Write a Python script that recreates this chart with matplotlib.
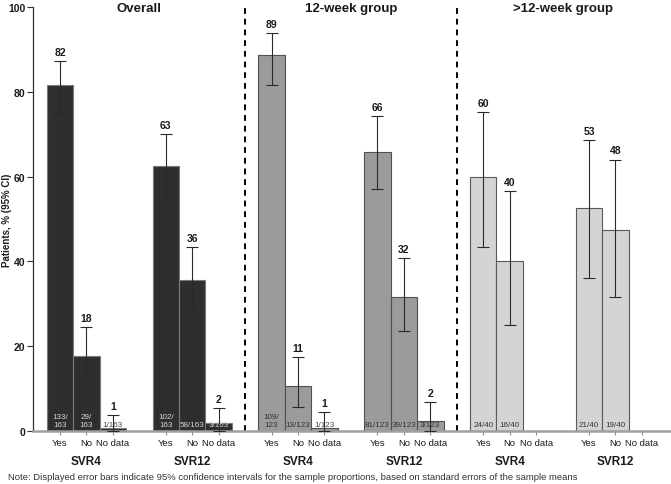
#!/usr/bin/env python3
"""Barre SVR4 / SVR12 per gruppo, con IC 95%."""

import matplotlib

matplotlib.use("Agg")

import matplotlib.pyplot as plt
import numpy as np

plt.rcParams["font.family"] = ["Liberation Sans", "DejaVu Sans"]

groups = ["Overall", "12-week group", ">12-week group"]
timepoints = ["SVR4", "SVR12"]
categories = ["Yes", "No", "No data"]

# una riga per (gruppo, timepoint): Yes, No, No data
pct = [
    [81.6, 17.8, 0.6],
    [62.6, 35.6, 1.8],
    [88.6, 10.6, 0.8],
    [65.9, 31.7, 2.4],
    [60.0, 40.0, np.nan],
    [52.5, 47.5, np.nan],
]
ci_low = [
    [75.0, 12.2, 0.0],
    [54.8, 28.3, 0.0],
    [81.6, 5.7, 0.0],
    [57.1, 23.6, 0.0],
    [43.5, 25.0, np.nan],
    [36.2, 31.5, np.nan],
]
ci_high = [
    [87.3, 24.5, 3.7],
    [70.0, 43.4, 5.4],
    [93.9, 17.5, 4.5],
    [74.3, 40.8, 6.8],
    [75.2, 56.5, np.nan],
    [68.6, 64.0, np.nan],
]
value_labels = [
    [82, 18, 1],
    [63, 36, 2],
    [89, 11, 1],
    [66, 32, 2],
    [60, 40, None],
    [53, 48, None],
]
count_labels = [
    ["133/\n163", "29/\n163", "1/163"],
    ["102/\n163", "58/163", "3/163"],
    ["109/\n123", "13/123", "1/123"],
    ["81/123", "39/123", "3/123"],
    ["24/40", "16/40", ""],
    ["21/40", "19/40", ""],
]

bar_colors = ["#2e2e2e", "#9b9b9b", "#d4d4d4"]
edge_colors = ["#7a7a7a", "#505050", "#5a5a5a"]
count_colors = ["#d6d6d6", "#333333", "#333333"]

fig = plt.figure(figsize=(6.71, 4.85), dpi=100)
ax = fig.add_axes([33 / 671, 1 - 432 / 485, 1 - 33 / 671, 424 / 485])

xticks, xticklabels = [], []
for row in range(len(pct)):
    g = row // 2
    base = row * 4
    for k, cat in enumerate(categories):
        x = base + k
        xticks.append(x)
        xticklabels.append(cat)
        h = pct[row][k]
        if np.isnan(h):
            continue
        ax.bar(x, h, width=1.0, color=bar_colors[g], edgecolor=edge_colors[g],
               linewidth=0.8, zorder=2)
        lo, hi = ci_low[row][k], ci_high[row][k]
        ax.errorbar(x, h, yerr=[[h - lo], [hi - h]], fmt="none", ecolor="#2a2a2a",
                    elinewidth=0.8, capsize=4.5, capthick=0.8, zorder=3)
        ax.text(x, hi + 1.0, str(value_labels[row][k]), ha="center", va="bottom",
                fontsize=7.5, fontweight="bold", color="#1a1a1a", zorder=4)
        txt_color = count_colors[g] if h >= 1 else "#444444"
        ax.text(x, 0.6, count_labels[row][k], ha="center", va="bottom",
                fontsize=5.8, color=txt_color, linespacing=1.35, zorder=4)
    ax.text(base + 1, -0.071, timepoints[row % 2], transform=ax.get_xaxis_transform(),
            ha="center", va="center", fontsize=8.5, fontweight="bold", color="#1a1a1a")

for g, name in enumerate(groups):
    ax.text(g * 8 + 3, 99.7, name, ha="center", va="center", fontsize=9.5,
            fontweight="bold", color="#1a1a1a", clip_on=False)

for xd in (7, 15):
    ax.plot([xd, xd], [0, 100], color="black", linestyle=(0, (3, 2.5)),
            linewidth=1.4, zorder=1, clip_on=False)

ax.set_xlim(-1.02, 23.1)
ax.set_ylim(0, 100)
ax.set_xticks(xticks)
ax.set_xticklabels(xticklabels, fontsize=6.8, color="#1a1a1a")
ax.set_yticks(np.arange(0, 101, 20))
ax.set_yticklabels([str(v) for v in range(0, 101, 20)], fontsize=7.5,
                   fontweight="bold", color="#1a1a1a")
ax.tick_params(axis="x", length=3, width=0.8, color="#8a8a8a", pad=2)
ax.tick_params(axis="y", length=4, width=0.8, color="#333333", pad=1.5)

for side in ("top", "right"):
    ax.spines[side].set_visible(False)
ax.spines["left"].set_color("#333333")
ax.spines["left"].set_linewidth(0.9)
ax.spines["bottom"].set_color("#a0a0a0")
ax.spines["bottom"].set_linewidth(1.8)

fig.text(7 / 671, 1 - 220 / 485, "Patients, % (95% CI)", rotation=90,
         ha="center", va="center", fontsize=7, fontweight="bold", color="#1a1a1a")

fig.text(8 / 671, 1 - 478 / 485,
         "Note: Displayed error bars indicate 95% confidence intervals for the sample "
         "proportions, based on standard errors of the sample means",
         ha="left", va="center", fontsize=6.8, color="#333333")

fig.savefig("out.png", dpi=100)
plt.close(fig)
